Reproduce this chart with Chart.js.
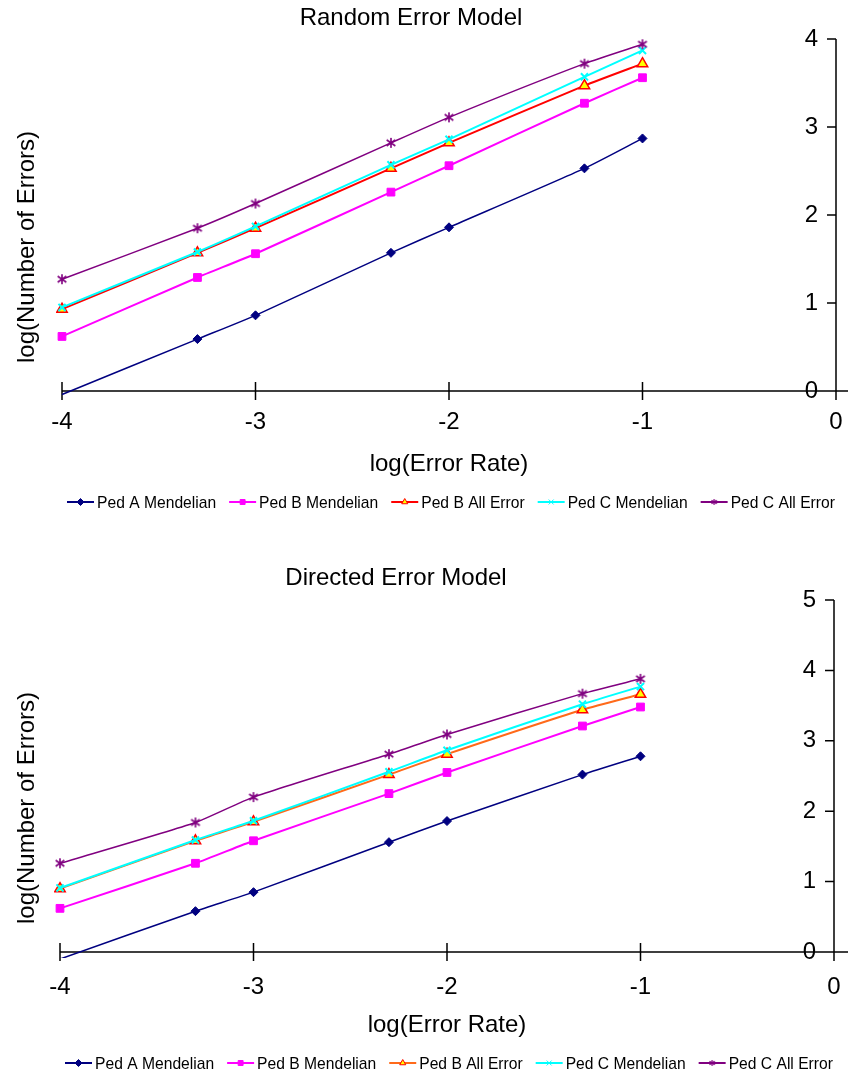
<!DOCTYPE html>
<html>
<head>
<meta charset="utf-8">
<script src="https://cdn.jsdelivr.net/npm/chart.js@4/dist/chart.umd.min.js"></script>
<style>
  body { margin: 0; background: #fff; }
  canvas { display: block; }
</style>
</head>
<body>
<canvas id="randomChart" width="848" height="540"></canvas>
<canvas id="directedChart" width="848" height="535"></canvas>
<script>
// x = log(error rate)
const errorRates = [-4, -3.3, -3, -2.3, -2, -1.3, -1];
const xTicks = [-4, -3, -2, -1, 0];
const yTicksRandom = [0, 1, 2, 3, 4];
const yTicksDirected = [0, 1, 2, 3, 4, 5];

const seriesNames = ['Ped A Mendelian', 'Ped B Mendelian', 'Ped B All Error', 'Ped C Mendelian', 'Ped C All Error'];

// Random Error Model
const randomPedA = [-0.04, 0.59, 0.86, 1.57, 1.86, 2.53, 2.87];
const randomPedB = [0.62, 1.29, 1.56, 2.26, 2.56, 3.27, 3.56];
const randomPedBAll = [0.93, 1.57, 1.85, 2.53, 2.82, 3.47, 3.72];
const randomPedC = [0.95, 1.58, 1.87, 2.57, 2.86, 3.57, 3.87];
const randomPedCAll = [1.27, 1.85, 2.13, 2.82, 3.11, 3.72, 3.94];

// Directed Error Model
const directedPedA = [-0.1, 0.58, 0.85, 1.56, 1.86, 2.52, 2.78];
const directedPedB = [0.62, 1.26, 1.58, 2.25, 2.55, 3.21, 3.48];
const directedPedBAll = [0.9, 1.58, 1.85, 2.52, 2.81, 3.44, 3.66];
const directedPedC = [0.91, 1.59, 1.865, 2.56, 2.865, 3.52, 3.77];
const directedPedCAll = [1.26, 1.84, 2.2, 2.81, 3.09, 3.67, 3.88];

const FONT = '"Liberation Sans", Arial, sans-serif';

function toPoints(values) {
    return values.map((v, i) => ({ x: errorRates[i], y: v }));
}

// Excel-like asterisk marker (x with a vertical bar)
function asteriskMarker(size, color, width) {
    const c = document.createElement('canvas');
    c.width = size;
    c.height = size;
    const g = c.getContext('2d');
    const m = size / 2, r = size / 2 - 1;
    g.strokeStyle = color;
    g.lineWidth = width;
    g.beginPath();
    g.moveTo(m, m - r); g.lineTo(m, m + r);
    g.moveTo(m - r * 0.87, m - r * 0.6); g.lineTo(m + r * 0.87, m + r * 0.6);
    g.moveTo(m - r * 0.87, m + r * 0.6); g.lineTo(m + r * 0.87, m - r * 0.6);
    g.stroke();
    return c;
}

// draws the axes crossing at x = 0, y = 0, titles and the legend, Excel style
const axisPlugin = {
    id: 'axisPlugin',
    beforeDatasetsDraw(chart, args, opts) {
        const { ctx, chartArea, scales: { x, y } } = chart;
        const x0 = x.getPixelForValue(0);
        const y0 = y.getPixelForValue(0);
        ctx.save();
        ctx.strokeStyle = '#000';
        ctx.lineWidth = 1.5;
        ctx.beginPath();
        ctx.moveTo(x.getPixelForValue(x.min), y0);
        ctx.lineTo(chart.width, y0);
        xTicks.forEach(t => {
            const px = x.getPixelForValue(t);
            ctx.moveTo(px, y0 - 9);
            ctx.lineTo(px, y0 + 9);
        });
        ctx.moveTo(x0, y.getPixelForValue(y.max));
        ctx.lineTo(x0, y0);
        opts.yTicks.forEach(t => {
            const py = y.getPixelForValue(t);
            ctx.moveTo(x0 - 9, py);
            ctx.lineTo(x0, py);
        });
        ctx.stroke();

        ctx.fillStyle = '#000';
        ctx.font = '24px ' + FONT;
        ctx.textAlign = 'right';
        ctx.textBaseline = 'middle';
        opts.yTicks.forEach(t => ctx.fillText(String(t), x0 - 18, y.getPixelForValue(t)));

        ctx.textAlign = 'center';
        ctx.fillText(opts.title, opts.titleX, opts.titleY);

        ctx.translate(27, (chartArea.top + chartArea.bottom) / 2 + 32);
        ctx.rotate(-Math.PI / 2);
        ctx.fillText('log(Number of Errors)', 0, 0);
        ctx.restore();
    },
    afterDraw(chart) {
        // legend: line sample + marker + slightly condensed text
        const { ctx, chartArea } = chart;
        const ly = chartArea.bottom + 111;
        let lx = chartArea.left + 5;
        ctx.save();
        ctx.font = '17px ' + FONT;
        ctx.textBaseline = 'middle';
        ctx.textAlign = 'left';
        chart.data.datasets.forEach(ds => {
            ctx.strokeStyle = ds.borderColor;
            ctx.lineWidth = 2;
            ctx.beginPath();
            ctx.moveTo(lx, ly);
            ctx.lineTo(lx + 27, ly);
            ctx.stroke();
            ctx.fillStyle = ds.pointBackgroundColor;
            ctx.strokeStyle = ds.pointBorderColor;
            ctx.lineWidth = 1;
            Chart.helpers.drawPoint(ctx, { pointStyle: ds.legendStyle || ds.pointStyle, radius: 3.5, borderWidth: 1, rotation: 0 }, lx + 13.5, ly);
            const w = ctx.measureText(ds.label).width * 0.92;
            ctx.save();
            ctx.translate(lx + 30, ly + 1);
            ctx.scale(0.92, 1);
            ctx.fillStyle = '#000';
            ctx.fillText(ds.label, 0, 0);
            ctx.restore();
            lx += 30 + w + 13;
        });
        ctx.restore();
    }
};

function makeDatasets(series, bAllColor) {
    const styles = [
        { color: '#000080', fill: '#000080', edge: '#000080', style: 'rectRot', r: 4.5, w: 1.5, pw: 1 },
        { color: '#FF00FF', fill: '#FF00FF', edge: '#FF00FF', style: 'rect', r: 5.5, w: 2, pw: 1 },
        { color: bAllColor, fill: '#FFFF00', edge: '#FF0000', style: 'triangle', r: 6, w: 2, pw: 1.5 },
        { color: '#00FFFF', fill: '#00FFFF', edge: '#00FFFF', style: 'crossRot', r: 5, w: 2, pw: 2 },
        { color: '#800080', fill: '#800080', edge: '#800080', style: asteriskMarker(12, '#800080', 1.6),
          legend: asteriskMarker(8, '#800080', 1.2), r: 6, w: 1.5, pw: 1.5 }
    ];
    return series.map((values, i) => ({
        label: seriesNames[i],
        data: toPoints(values),
        borderColor: styles[i].color,
        borderWidth: styles[i].w,
        pointStyle: styles[i].style,
        legendStyle: styles[i].legend,
        pointBackgroundColor: styles[i].fill,
        pointBorderColor: styles[i].edge,
        pointBorderWidth: styles[i].pw,
        pointRadius: ctx => (ctx.raw && ctx.raw.y < 0 ? 0 : styles[i].r),
        tension: 0.2,
        clip: 6,
        order: series.length - i
    }));
}

function makeChart(id, series, bAllColor, yTicks, layout) {
    new Chart(document.getElementById(id), {
        type: 'line',
        plugins: [axisPlugin],
        data: { datasets: makeDatasets(series, bAllColor) },
        options: {
            responsive: false,
            animation: false,
            layout: { padding: layout.padding },
            scales: {
                x: {
                    type: 'linear',
                    min: -4,
                    max: 0,
                    afterBuildTicks: axis => { axis.ticks = xTicks.map(v => ({ value: v })); },
                    // keep the plot width set by layout padding only
                    afterFit: axis => { axis.paddingLeft = 0; axis.paddingRight = 0; },
                    grid: { display: false, drawTicks: false },
                    border: { display: false },
                    ticks: { color: '#000', font: { family: FONT, size: 24 }, padding: layout.tickPad },
                    title: {
                        display: true,
                        text: 'log(Error Rate)',
                        color: '#000',
                        font: { family: FONT, size: 24 },
                        padding: { top: layout.titlePad, bottom: 0 }
                    }
                },
                y: {
                    display: false,
                    min: 0,
                    max: yTicks[yTicks.length - 1]
                }
            },
            plugins: {
                tooltip: { enabled: false },
                legend: { display: false },
                axisPlugin: { yTicks: yTicks, title: layout.title, titleX: layout.titleX, titleY: layout.titleY }
            }
        }
    });
}

makeChart('randomChart',
    [randomPedA, randomPedB, randomPedBAll, randomPedC, randomPedCAll],
    '#FF0000', yTicksRandom,
    { padding: { left: 62, right: 12, top: 39, bottom: 61.4 }, tickPad: 17, titlePad: -4,
      title: 'Random Error Model', titleX: 411, titleY: 18 });

makeChart('directedChart',
    [directedPedA, directedPedB, directedPedBAll, directedPedC, directedPedCAll],
    '#FF6A1A', yTicksDirected,
    { padding: { left: 60, right: 14, top: 60, bottom: 35.4 }, tickPad: 21, titlePad: -12,
      title: 'Directed Error Model', titleX: 396, titleY: 38 });
</script>
</body>
</html>
